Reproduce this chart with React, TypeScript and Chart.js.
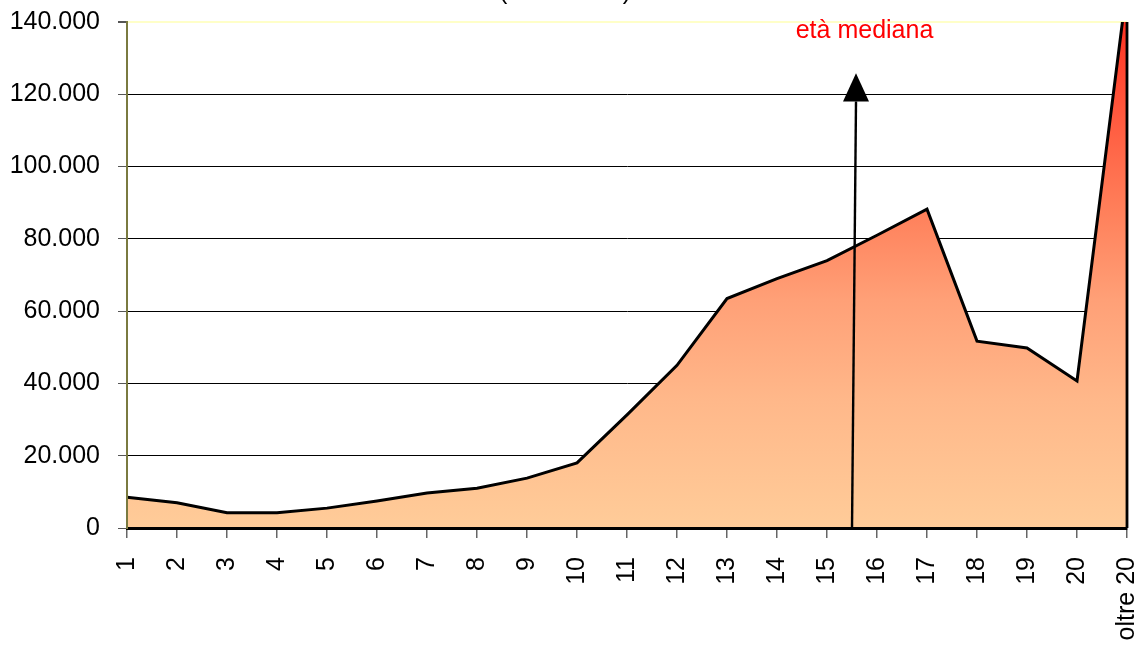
import React, { useEffect, useRef } from "react";
import { Chart, registerables } from "chart.js";

Chart.register(...registerables);

const categories = ["1", "2", "3", "4", "5", "6", "7", "8", "9", "10", "11", "12", "13", "14", "15", "16", "17", "18", "19", "20", "oltre 20"];
const values = [8500, 7000, 4200, 4200, 5500, 7500, 9700, 11000, 13800, 18000, 31300, 45000, 63500, 69000, 74000, 81000, 88200, 51700, 49800, 40700, 150000];
const yTicks = [0, 20000, 40000, 60000, 80000, 100000, 120000, 140000];
const medianLabel = "età mediana";
const titleText = "(età in anni)";
const medianX = [14.5, 14.58];
const arrowValues = [118000, 125800];

const FONT = "'Liberation Sans', Arial, sans-serif";
const FS = 25;

const fmt = (v: number) => String(v).replace(/\B(?=(\d{3})+(?!\d))/g, ".");

const decorPlugin = {
  id: "decor",
  afterDatasetsDraw(chart: any) {
    const { ctx, chartArea } = chart;
    const x = chart.scales.x;
    const lastX = x.getPixelForValue(categories.length - 1);
    ctx.save();
    ctx.strokeStyle = "#000";
    ctx.lineWidth = 2.8;
    ctx.beginPath();
    ctx.moveTo(lastX, chartArea.top);
    ctx.lineTo(lastX, chartArea.bottom);
    ctx.stroke();
    ctx.restore();
  },
  afterDraw(chart: any) {
    const { ctx, chartArea } = chart;
    const x = chart.scales.x;
    const y = chart.scales.y;
    const x0 = x.getPixelForValue(medianX[0]);
    const x1 = x.getPixelForValue(medianX[1]);
    const yBase = y.getPixelForValue(arrowValues[0]);
    const yTip = y.getPixelForValue(arrowValues[1]);
    ctx.save();
    ctx.strokeStyle = "#000";
    ctx.fillStyle = "#000";
    ctx.lineWidth = 2.4;
    ctx.beginPath();
    ctx.moveTo(x0, chartArea.bottom);
    ctx.lineTo(x1, yBase);
    ctx.stroke();
    ctx.beginPath();
    ctx.moveTo(x1, yTip);
    ctx.lineTo(x1 - 13, yBase);
    ctx.lineTo(x1 + 13, yBase);
    ctx.closePath();
    ctx.fill();

    ctx.fillStyle = "#ff0000";
    ctx.font = `${FS}px ${FONT}`;
    ctx.textAlign = "center";
    ctx.textBaseline = "alphabetic";
    ctx.fillText(medianLabel, x.getPixelForValue(14.75), y.getPixelForValue(135500));

    ctx.fillStyle = "#000";
    ctx.fillText(titleText, 565, -1);
    ctx.restore();
  },
};

export default function App() {
  const ref = useRef<HTMLCanvasElement>(null);
  useEffect(() => {
    if (!ref.current) return;
    const chart = new Chart(ref.current, {
      type: "line",
      data: {
        labels: categories,
        datasets: [
          {
            data: values,
            borderColor: "#000",
            borderWidth: 3,
            pointRadius: 0,
            tension: 0,
            fill: "origin",
            backgroundColor: (c: any) => {
              const area = c.chart.chartArea;
              if (!area) return "#ffcc99";
              const g = c.chart.ctx.createLinearGradient(0, area.top, 0, area.bottom);
              g.addColorStop(0, "#ff3322");
              g.addColorStop(0.37, "#ff7f5a");
              g.addColorStop(0.55, "#ffa077");
              g.addColorStop(0.75, "#ffb88a");
              g.addColorStop(1, "#ffcc99");
              return g;
            },
          },
        ],
      },
      options: {
        responsive: false,
        animation: false,
        layout: { padding: { top: 22, right: 14, left: 0, bottom: 0 } },
        plugins: { legend: { display: false }, tooltip: { enabled: false }, title: { display: false } },
        scales: {
          x: {
            type: "category",
            offset: false,
            afterFit: (s: any) => {
              s.height = 123;
              s.paddingLeft = 0;
              s.paddingRight = 0;
            },
            grid: { drawOnChartArea: false, drawTicks: true, tickLength: 10, color: "#666", lineWidth: 1.5 },
            border: { display: true, color: "#000", width: 3, z: 1 },
            ticks: {
              autoSkip: false,
              maxRotation: 90,
              minRotation: 90,
              padding: 19,
              color: "#000",
              font: { family: FONT, size: FS },
            },
          },
          y: {
            min: 0,
            max: 140000,
            afterFit: (s: any) => {
              s.width = 127;
              s.paddingTop = 0;
              s.paddingBottom = 0;
            },
            afterBuildTicks: (s: any) => {
              s.ticks = yTicks.map((v) => ({ value: v }));
            },
            grid: {
              color: (c: any) => (c.tick && c.tick.value === 140000 ? "#ffffc8" : "#000"),
              lineWidth: (c: any) => (c.tick && c.tick.value === 140000 ? 2 : 1),
              tickLength: 9,
              tickColor: "#555",
            },
            border: { display: true, color: "#7a7a40", width: 2, z: 1 },
            ticks: {
              padding: 18,
              color: "#000",
              font: { family: FONT, size: FS },
              callback: (v: any) => fmt(Number(v)),
            },
          },
        },
      },
      plugins: [decorPlugin],
    } as any);
    return () => chart.destroy();
  }, []);
  return (
    <div style={{ position: "fixed", left: 0, top: 0, width: 1141, height: 651, background: "#fff" }}>
      <canvas ref={ref} width={1141} height={651} style={{ width: 1141, height: 651, display: "block" }} />
    </div>
  );
}
